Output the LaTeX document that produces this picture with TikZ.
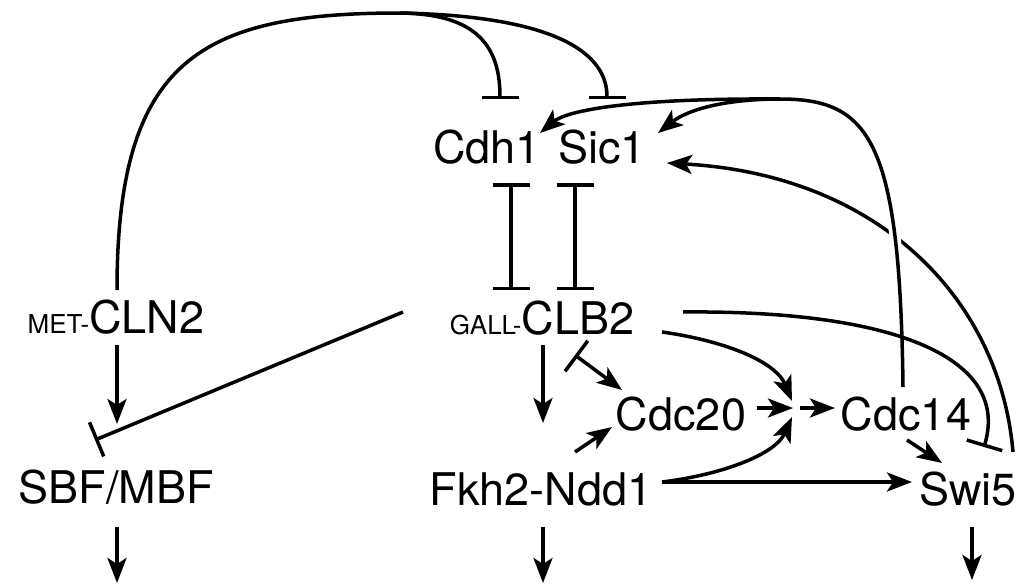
\documentclass[tikz,border=0pt]{standalone}
\usepackage{fontspec}
\setmainfont{TeX Gyre Heros}
\usepackage{tikz}
\usetikzlibrary{calc, positioning, arrows.meta}
\tikzstyle{gene} = [anchor=base, inner sep=0pt, font=\fontsize{45}{54}\selectfont]
\tikzstyle{link} = [line width=3.5pt]
\tikzstyle{act} = [line width=3.5pt, -{Stealth[length=25pt, width=19pt, inset=6pt]}]
\tikzstyle{inh} = [line width=3.5pt, -{Bar[width=37pt]}]
\tikzstyle{mutual} = [line width=3.5pt, {Bar[width=37pt]}-{Bar[width=37pt]}]
\tikzstyle{barred} = [line width=3.5pt, {Bar[width=38pt]}-{Stealth[length=25pt, width=19pt, inset=6pt]}]
\newcommand{\promoter}[1]{{\fontsize{26}{30}\selectfont #1}}

\begin{document}
\begin{tikzpicture}[x=1pt, y=-1pt]
	\useasboundingbox (0,0) rectangle (1021,584);
	% species
	\node (cdh1) [gene] at (487,163) {Cdh1};
	\node (sic1) [gene] at (602,163) {Sic1};
	\node (cln2) [gene] at (116,333) {\promoter{MET-}CLN2};
	\node (clb2) [gene] at (542,334) {\promoter{GALL-}CLB2};
	\node (cdc20) [gene] at (681,430) {Cdc20};
	\node (cdc14) [gene] at (906,430) {Cdc14};
	\node (sbf) [gene] at (116,503) {SBF/MBF};
	\node (fkh) [gene] at (541,505) {Fkh2-Ndd1};
	\node (swi5) [gene] at (968,505) {Swi5};
	\coordinate (top) at (400,13);
	\coordinate (c14turn) at (780,99);
	\coordinate (jn) at (793,408);
	% CLN2 over the top
	\draw[link] ([shift={(1,-43)}]cln2.base) .. controls (117,60) and (200,13) .. (top);
	\draw[inh] (top) .. controls (470,14) and (500,40) .. ([shift={(13,-64)}]cdh1.base);
	\draw[inh] (top) .. controls (560,16) and (607,55) .. ([shift={(5,-64)}]sic1.base);
	% Cdh1/Sic1 vs CLB2
	\draw[mutual] ([shift={(24,20)}]cdh1.base) -- ([shift={(-31,-44)}]clb2.base);
	\draw[mutual] ([shift={(-27,20)}]sic1.base) -- ([shift={(33,-44)}]clb2.base);
	% Swi5 and Cdc14 back to Cdh1/Sic1
	\draw[act] ([shift={(45,-53)}]swi5.base) .. controls (1000,300) and (880,175) .. ([shift={(65,0)}]sic1.base);
	\draw[link, preaction={draw=white, line width=11pt}] ([shift={(-3,-43)}]cdc14.base) .. controls (900,140) and (870,99) .. (c14turn);
	\draw[act] (c14turn) .. controls (620,98) and (565,112) .. ([shift={(53,-30)}]cdh1.base);
	\draw[act] (c14turn) .. controls (730,99) and (690,108) .. ([shift={(56,-30)}]sic1.base);
	% CLB2 outputs
	\draw[inh] ([shift={(141,-22)}]clb2.base) .. controls (900,310) and (1010,360) .. ([shift={(16,-58)}]swi5.base);
	\draw[act] ([shift={(120,-2)}]clb2.base) .. controls (720,340) and (775,360) .. ([shift={(-1,-7)}]jn);
	\draw[act] ([shift={(1,11)}]clb2.base) -- ([shift={(2,-82)}]fkh.base);
	\draw[barred] ([shift={(33,21)}]clb2.base) -- ([shift={(-59,-40)}]cdc20.base);
	\draw[inh] ([shift={(-139,-22)}]clb2.base) -- ([shift={(-21,-63)}]sbf.base);
	% Fkh2-Ndd1 outputs
	\draw[act] ([shift={(121,-23)}]fkh.base) .. controls (720,475) and (775,455) .. ([shift={(-1,9)}]jn);
	\draw[act] ([shift={(121,-23)}]fkh.base) -- ([shift={(-56,-23)}]swi5.base);
	\draw[act] ([shift={(34,-53)}]fkh.base) -- ([shift={(-69,-3)}]cdc20.base);
	% Cdc20, Cdc14
	\draw[act] ([shift={(76,-22)}]cdc20.base) -- (jn);
	\draw[act] ([shift={(7,0)}]jn) -- ([shift={(-71,-22)}]cdc14.base);
	\draw[act] ([shift={(1,10)}]cdc14.base) -- ([shift={(-26,-42)}]swi5.base);
	% CLN2
	\draw[act] ([shift={(1,12)}]cln2.base) -- ([shift={(1,-79)}]sbf.base);
	% outputs at the bottom
	\draw[act] ([shift={(1,24)}]sbf.base) -- ([shift={(1,80)}]sbf.base);
	\draw[act] ([shift={(2,22)}]fkh.base) -- ([shift={(2,78)}]fkh.base);
	\draw[act] ([shift={(4,22)}]swi5.base) -- ([shift={(4,75)}]swi5.base);
\end{tikzpicture}
\end{document}
